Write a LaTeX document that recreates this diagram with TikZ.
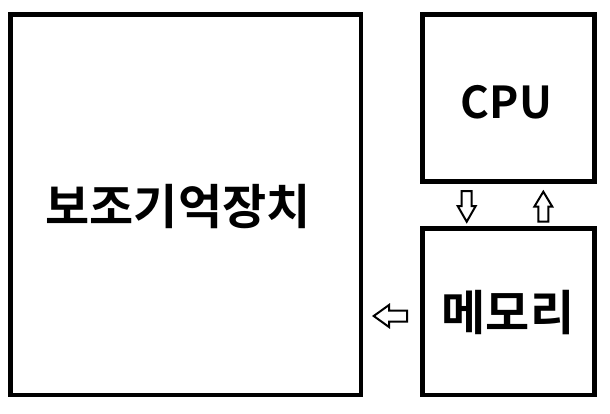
\documentclass[tikz,border=0pt]{standalone}
\usepackage{fontspec}
\newfontfamily\kfont{Noto Sans CJK KR Bold}
\begin{document}
\begin{tikzpicture}[x=1pt,y=-1pt,
  box/.style={draw=black,line width=4.6pt,fill=white},
  lbl/.style={font=\kfont\fontsize{48}{52}\selectfont,inner sep=0pt,anchor=center},
  lat/.style={font=\kfont\fontsize{44}{48}\selectfont,inner sep=0pt,anchor=center},
  blk/.style={draw=black,line width=2pt,fill=white,line join=miter}]
\useasboundingbox[fill=white] (0,0) rectangle (610,413);
\draw[box] (10.3,14.3) rectangle (360.8,395);
\draw[box] (422.3,14.3) rectangle (594.3,181.3);
\draw[box] (422.3,228.3) rectangle (594.3,395);
\node[lbl] (aux) at (178,207) {보조기억장치};
\node[lat] (cpu) at (506.5,102) {CPU};
\node[lbl] (mem) at (508,313) {메모리};
% down arrow
\draw[blk] (461.7,191) -- (471.7,191) -- (471.7,206) -- (475.7,206) -- (466.7,221.7) -- (457.7,206) -- (461.7,206) -- cycle;
% up arrow
\draw[blk] (538.3,221.7) -- (548.3,221.7) -- (548.3,206.7) -- (552.3,206.7) -- (543.3,191.7) -- (534.3,206.7) -- (538.3,206.7) -- cycle;
% left arrow
\draw[blk] (407,310.5) -- (389,310.5) -- (389,305) -- (373.7,316) -- (389,327) -- (389,321.5) -- (407,321.5) -- cycle;
\end{tikzpicture}
\end{document}
